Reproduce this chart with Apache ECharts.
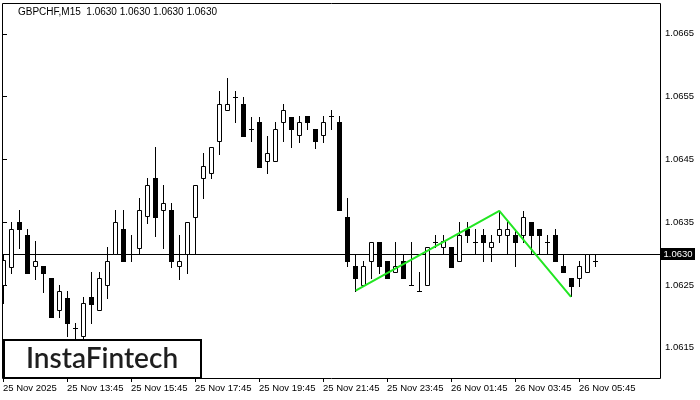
<!DOCTYPE html>
<html>
<head>
<meta charset="utf-8">
<script src="https://cdn.jsdelivr.net/npm/echarts@6/dist/echarts.min.js"></script>
<style>html,body{margin:0;padding:0;background:#fff}#c{width:700px;height:400px}</style>
</head>
<body>
<div id="c"></div>
<script>
// ---- data ----
const candleIndex = Array.from({length: 75}, (_, k) => k);
const opens = [1.06250,1.06279,1.06350,1.06329,1.06280,1.06280,1.06261,1.06210,1.06230,1.06181,
1.06169,1.06231,1.06210,1.06250,1.06300,1.06339,1.06300,1.06309,1.06360,1.06420,
1.06369,1.06369,1.06280,1.06300,1.06359,1.06420,1.06429,1.06479,1.06528,1.06549,
1.06538,1.06499,1.06509,1.06448,1.06448,1.06509,1.06518,1.06489,1.06519,1.06499,
1.06489,1.06519,1.06509,1.06359,1.06280,1.06250,1.06289,1.06319,1.06289,1.06270,
1.06289,1.06250,1.06240,1.06250,1.06319,1.06310,1.06310,1.06289,1.06339,1.06319,
1.06329,1.06310,1.06329,1.06329,1.06329,1.06329,1.06350,1.06339,1.06319,1.06329,
1.06280,1.06261,1.06261,1.06270,1.06289];
const highs = [1.06298,1.06350,1.06369,1.06339,1.06320,1.06280,1.06261,1.06250,1.06240,1.06190,
1.06231,1.06271,1.06271,1.06310,1.06369,1.06369,1.06329,1.06389,1.06420,1.06469,
1.06409,1.06380,1.06329,1.06350,1.06409,1.06460,1.06469,1.06559,1.06579,1.06559,
1.06549,1.06518,1.06518,1.06488,1.06509,1.06538,1.06518,1.06519,1.06519,1.06499,
1.06519,1.06529,1.06519,1.06389,1.06299,1.06289,1.06319,1.06319,1.06289,1.06319,
1.06299,1.06319,1.06270,1.06310,1.06329,1.06329,1.06310,1.06350,1.06350,1.06339,
1.06339,1.06329,1.06368,1.06350,1.06339,1.06368,1.06350,1.06339,1.06329,1.06339,
1.06300,1.06261,1.06289,1.06300,1.06300];
const lows = [1.06221,1.06269,1.06309,1.06269,1.06260,1.06239,1.06199,1.06199,1.06169,1.06162,
1.06161,1.06190,1.06210,1.06230,1.06300,1.06289,1.06289,1.06300,1.06349,1.06328,
1.06309,1.06279,1.06259,1.06269,1.06300,1.06389,1.06420,1.06459,1.06528,1.06509,
1.06488,1.06479,1.06438,1.06429,1.06448,1.06479,1.06469,1.06478,1.06499,1.06468,
1.06478,1.06499,1.06369,1.06280,1.06241,1.06250,1.06261,1.06269,1.06261,1.06270,
1.06261,1.06250,1.06240,1.06250,1.06310,1.06300,1.06279,1.06289,1.06319,1.06300,
1.06289,1.06289,1.06319,1.06300,1.06280,1.06319,1.06300,1.06300,1.06300,1.06289,
1.06270,1.06233,1.06249,1.06270,1.06280];
const closes = [1.06290,1.06339,1.06339,1.06269,1.06289,1.06269,1.06199,1.06240,1.06190,1.06181,
1.06221,1.06220,1.06261,1.06289,1.06350,1.06289,1.06300,1.06369,1.06409,1.06359,
1.06380,1.06289,1.06289,1.06350,1.06409,1.06439,1.06469,1.06538,1.06538,1.06549,
1.06488,1.06499,1.06438,1.06460,1.06499,1.06528,1.06499,1.06509,1.06509,1.06479,
1.06509,1.06519,1.06369,1.06289,1.06261,1.06280,1.06319,1.06280,1.06261,1.06280,
1.06261,1.06250,1.06240,1.06310,1.06319,1.06320,1.06279,1.06329,1.06329,1.06319,
1.06319,1.06319,1.06339,1.06339,1.06319,1.06359,1.06329,1.06329,1.06319,1.06289,
1.06270,1.06249,1.06280,1.06300,1.06289];
const patternX = [44.08, 62.04, 71.0];
const patternY = [1.06241, 1.06368, 1.06231];
const currentPrice = 1.0630;
const xTickIndex = [0, 8, 16, 24, 32, 40, 48, 56, 64, 72];
const xTickLabels = ['25 Nov 2025','25 Nov 13:45','25 Nov 15:45','25 Nov 17:45','25 Nov 19:45',
  '25 Nov 21:45','25 Nov 23:45','26 Nov 01:45','26 Nov 03:45','26 Nov 05:45'];
const yTicks = [1.0615, 1.0625, 1.0635, 1.0645, 1.0655, 1.0665];
const titleText = 'GBPCHF,M15  1.0630 1.0630 1.0630 1.0630';
const logoText = 'InstaFintech';

// ---- build ----
const X_MIN = -0.125, X_MAX = 82.125;
const candleData = candleIndex.map(k => [k, opens[k], closes[k], lows[k], highs[k]]);
const patternData = patternX.map((x, k) => [x, patternY[k]]);
const priceLineData = [[X_MIN, currentPrice], [X_MAX, currentPrice]];
const FONT = 'Liberation Sans';

function renderCandle(params, api) {
  const i = api.value(0), o = api.value(1), c = api.value(2), l = api.value(3), h = api.value(4);
  const pO = api.coord([i, o]), pC = api.coord([i, c]), pL = api.coord([i, l]), pH = api.coord([i, h]);
  const cx = Math.round(pO[0]) + 0.5;
  const yO = Math.round(pO[1]), yC = Math.round(pC[1]), yL = Math.round(pL[1]), yH = Math.round(pH[1]);
  const ch = [];
  ch.push({type: 'line', shape: {x1: cx, y1: yH, x2: cx, y2: yL + 1}, style: {stroke: '#000', lineWidth: 1}});
  if (Math.abs(yO - yC) < 1) {
    ch.push({type: 'line', shape: {x1: cx - 2.5, y1: yO + 0.5, x2: cx + 2.5, y2: yO + 0.5}, style: {stroke: '#000', lineWidth: 1}});
  } else if (c > o) {
    ch.push({type: 'rect', shape: {x: cx - 2, y: yC + 0.5, width: 4, height: yO - yC}, style: {fill: '#fff', stroke: '#000', lineWidth: 1}});
  } else {
    ch.push({type: 'rect', shape: {x: cx - 2.5, y: yO, width: 5, height: yC - yO + 1}, style: {fill: '#000'}});
  }
  return {type: 'group', children: ch};
}

function renderPriceLine(params, api) {
  if (params.dataIndex !== 0) return null;
  const a = api.coord(priceLineData[0]), b = api.coord(priceLineData[1]);
  const y = Math.round(a[1]) + 0.5;
  return {type: 'group', children: [
    {type: 'line', shape: {x1: a[0], y1: y, x2: b[0], y2: y}, style: {stroke: '#000', lineWidth: 1}},
    {type: 'rect', shape: {x: b[0] + 1, y: y - 6.5, width: 34, height: 12}, style: {fill: '#000'}},
    {type: 'text', x: b[0] + 18, y: y, style: {text: currentPrice.toFixed(4), fill: '#fff',
      font: '9.5px "Liberation Sans"', textAlign: 'center', textVerticalAlign: 'middle'}}
  ]};
}

const chart = echarts.init(document.getElementById('c'), null, {renderer: 'canvas'});
chart.setOption({
  animation: false,
  textStyle: {fontFamily: FONT},
  grid: {left: 2, right: 40, top: 3, bottom: 22, show: false},
  xAxis: {
    type: 'value', min: X_MIN, max: X_MAX,
    axisLine: {show: false}, splitLine: {show: false},
    axisTick: {show: true, length: 4, lineStyle: {color: '#000'}, customValues: xTickIndex},
    axisLabel: {
      customValues: xTickIndex, align: 'left', margin: 5, fontSize: 9.5, color: '#000', fontFamily: FONT,
      formatter: v => { const k = xTickIndex.indexOf(Math.round(v)); return k >= 0 ? xTickLabels[k] : ''; }
    }
  },
  yAxis: {
    type: 'value', position: 'right', min: 1.06102, max: 1.06699, scale: true,
    axisLine: {show: false}, splitLine: {show: false},
    axisTick: {show: true, length: 4, lineStyle: {color: '#000'}, customValues: yTicks},
    axisLabel: {customValues: yTicks, margin: 5, fontSize: 9.5, color: '#000', fontFamily: FONT,
      formatter: v => Number(v).toFixed(4)}
  },
  graphic: [
    {type: 'rect', silent: true, z: 100, shape: {x: 2.5, y: 3.5, width: 658, height: 375},
      style: {fill: 'none', stroke: '#000', lineWidth: 1}},
    {type: 'text', silent: true, z: 100, x: 18, y: 12,
      style: {text: titleText, font: '10px "Liberation Sans"', fill: '#000', textVerticalAlign: 'middle'}},
    {type: 'rect', silent: true, z: 101, shape: {x: 4, y: 340, width: 197, height: 38},
      style: {fill: '#fff', stroke: '#000', lineWidth: 2}},
    {type: 'text', silent: true, z: 102, x: 102, y: 359,
      style: {text: logoText, font: '600 28px Lato', fill: '#1e1e1e', textAlign: 'center', textVerticalAlign: 'middle'}}
  ],
  series: [
    {
      type: 'custom', name: 'price', renderItem: renderPriceLine, data: priceLineData, clip: false, z: 1,
      encode: {x: 0, y: 1}, silent: true
    },
    {
      type: 'custom', name: 'GBPCHF', renderItem: renderCandle, data: candleData, clip: true, z: 2,
      encode: {x: 0, y: [1, 2, 3, 4]}
    },
    {
      type: 'line', name: 'pattern', data: patternData, symbol: 'none', z: 5,
      lineStyle: {color: '#22e622', width: 2}
    }
  ]
});
</script>
</body>
</html>
